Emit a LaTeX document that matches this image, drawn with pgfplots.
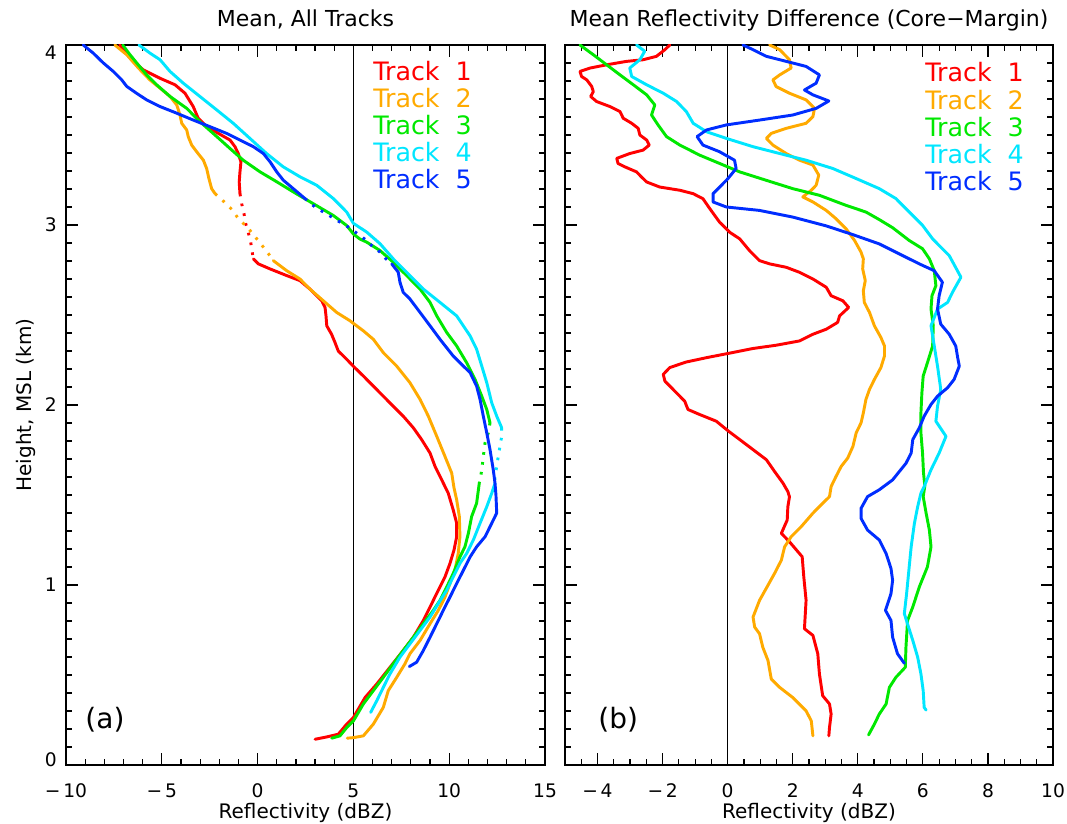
\documentclass[border=0pt]{standalone}
\usepackage{fontspec}
\setmainfont{DejaVu Sans}
\usepackage{pgfplots}
\pgfplotsset{compat=1.18}

\definecolor{trk1}{RGB}{255,0,0}
\definecolor{trk2}{RGB}{255,170,0}
\definecolor{trk3}{RGB}{0,232,0}
\definecolor{trk4}{RGB}{0,230,255}
\definecolor{trk5}{RGB}{0,45,255}

\newcommand\tickfont{\fontsize{14}{16}\selectfont}
\newcommand\labfont{\fontsize{15}{17}\selectfont}
\newcommand\titfont{\fontsize{16.5}{18}\selectfont}
\newcommand\legfont{\fontsize{19}{21}\selectfont}
\newcommand\panfont{\fontsize{21}{23}\selectfont}

\pgfplotsset{
  profile/.style={
    scale only axis,
    anchor=south west,
    height=540pt,
    ymin=0, ymax=4,
    ytick={0,1,2,3,4},
    minor y tick num=9,
    axis line style={line width=1.3pt},
    tick align=inside,
    tick style={black, line width=0.9pt},
    major tick length=9pt,
    minor tick length=4.5pt,
    tick label style={font=\tickfont, inner sep=0pt},
    /pgf/number format/assume math mode=true,
    xticklabel style={anchor=base, yshift=-24pt},
    yticklabel style={anchor=east, xshift=-6.75pt},
    title style={font=\titfont, at={(0.5,1)}, anchor=base, yshift=8pt},
    xlabel style={font=\labfont, at={(axis description cs:0.5,0)}, anchor=base, yshift=-39.75pt},
    ylabel style={font=\labfont, at={(axis description cs:-0.071,0.5)}, anchor=base},
    xlabel={Reflectivity (dBZ)},
  },
  solid trk/.style={line width=2.2pt, line join=round, line cap=round},
  dot trk/.style={line width=2.2pt, dash pattern=on 2pt off 5.5pt},
}

\begin{document}
\begin{tikzpicture}
\useasboundingbox (0,0) rectangle (800.25pt,618pt);

% ---------------- (a) mean profiles ----------------
\begin{axis}[profile,
  at={(49.5pt,44.25pt)}, width=359.25pt,
  xmin=-10, xmax=15,
  xtick={-10,-5,0,5,10,15},
  xticklabels={−\kern2pt10,−\kern2pt5,0,5,10,15},
  minor x tick num=4,
  yticklabels={\raisebox{4pt}[\height][\depth]{0},1,2,3,\raisebox{-6pt}[\height][\depth]{4}},
  title={Mean, All Tracks},
  ylabel={Height, MSL (km)},
]
\addplot[black, line width=0.8pt, forget plot] coordinates {(5,0) (5,4)};

% Track 1
\addplot[trk1, solid trk] coordinates {
(-7.20,4.000) (-6.57,3.918) (-5.97,3.862) (-5.09,3.815) (-4.31,3.779) (-3.79,3.732)
(-3.36,3.658) (-3.10,3.593) (-2.66,3.546) (-2.05,3.509) (-1.44,3.472) (-1.18,3.435)
(-1.01,3.397) (-0.87,3.351) (-0.92,3.295) (-0.96,3.239) (-0.92,3.174)};
\addplot[trk1, dot trk] coordinates {
(-0.92,3.174) (-0.83,3.118) (-0.71,3.063) (-0.62,3.007) (-0.49,2.960) (-0.36,2.904)
(-0.28,2.849) (-0.22,2.812)};
\addplot[trk1, solid trk] coordinates {
(-0.22,2.812) (0.04,2.784) (0.65,2.756) (1.52,2.719) (2.21,2.691) (2.73,2.644)
(3.35,2.579) (3.52,2.542) (3.57,2.495) (3.61,2.440) (3.86,2.393) (4.04,2.347)
(4.21,2.300) (4.65,2.254) (4.99,2.216) (5.52,2.161) (6.04,2.105) (6.56,2.049)
(7.08,1.993) (7.60,1.938) (8.13,1.873) (8.56,1.808) (9.00,1.733) (9.26,1.659)
(9.61,1.584) (9.95,1.510) (10.21,1.417) (10.39,1.343) (10.39,1.268) (10.25,1.194)
(10.04,1.120) (9.78,1.045) (9.43,0.971) (9.09,0.897) (8.65,0.803) (8.13,0.710)
(7.60,0.636) (6.91,0.543) (6.22,0.450) (5.61,0.375) (5.00,0.264) (4.65,0.227)
(4.21,0.171) (3.61,0.156) (3.00,0.143)};

% Track 2
\addplot[trk2, solid trk] coordinates {
(-7.45,4.000) (-6.83,3.946) (-6.22,3.872) (-5.62,3.806) (-5.09,3.760) (-4.57,3.714)
(-4.22,3.667) (-4.05,3.611) (-3.96,3.565) (-3.70,3.528) (-3.62,3.491) (-3.44,3.444)
(-3.18,3.407) (-2.83,3.360) (-2.66,3.314) (-2.54,3.258) (-2.40,3.202) (-2.22,3.174)};
\addplot[trk2, dot trk] coordinates {
(-2.22,3.174) (-1.74,3.128) (-1.35,3.087) (-1.06,3.044) (-0.40,2.970) (-0.05,2.924)
(0.30,2.877) (0.61,2.834) (0.82,2.802)};
\addplot[trk2, solid trk] coordinates {
(0.82,2.802) (1.52,2.746) (2.21,2.700) (2.73,2.644) (3.43,2.579) (4.13,2.514)
(4.82,2.468) (5.52,2.412) (6.04,2.365) (6.56,2.291) (7.26,2.216) (7.95,2.124)
(8.48,2.031) (8.91,1.938) (9.35,1.826) (9.78,1.714) (10.13,1.622) (10.25,1.540)
(10.39,1.473) (10.53,1.380) (10.56,1.268) (10.47,1.175) (10.30,1.082) (10.04,1.008)
(9.78,0.933) (9.43,0.859) (9.00,0.785) (8.48,0.692) (7.95,0.618) (7.69,0.562)
(7.26,0.487) (6.82,0.413) (6.56,0.320) (6.04,0.227) (5.52,0.162) (5.00,0.152)
(4.68,0.149)};

% Track 3
\addplot[trk3, solid trk] coordinates {
(-7.04,4.000) (-6.66,3.946) (-6.23,3.890) (-5.79,3.834) (-5.27,3.779) (-4.57,3.714)
(-3.70,3.648) (-3.01,3.574) (-2.13,3.491) (-1.44,3.425) (-0.75,3.360) (0.13,3.295)
(1.00,3.240) (1.86,3.184) (2.91,3.118) (3.95,3.053) (4.65,2.997) (5.00,2.950)
(5.34,2.922) (5.69,2.905) (6.39,2.858) (7.08,2.793) (7.78,2.719) (8.48,2.644)
(9.00,2.570) (9.35,2.495) (9.87,2.403) (10.39,2.328) (10.91,2.235) (11.35,2.142)
(11.70,2.049) (11.96,1.975) (12.13,1.901)};
\addplot[trk3, dot trk] coordinates {
(12.13,1.901) (12.04,1.845) (11.87,1.789) (11.78,1.714) (11.70,1.640) (11.61,1.584)
(11.57,1.566)};
\addplot[trk3, solid trk] coordinates {
(11.57,1.566) (11.43,1.454) (11.17,1.380) (11.00,1.287) (10.82,1.212) (10.56,1.156)
(10.21,1.064) (9.87,0.989) (9.52,0.915) (9.17,0.859) (8.65,0.785) (8.13,0.710)
(7.60,0.636) (7.08,0.562) (6.56,0.487) (6.04,0.413) (5.52,0.339) (5.00,0.245)
(4.65,0.208) (4.30,0.162) (3.87,0.149)};

% Track 4
\addplot[trk4, solid trk] coordinates {
(-6.19,4.000) (-5.62,3.955) (-5.09,3.918) (-4.57,3.853) (-3.88,3.788) (-3.01,3.714)
(-2.13,3.639) (-1.27,3.565) (-0.40,3.481) (0.47,3.397) (1.34,3.323) (2.21,3.268)
(3.08,3.221) (3.95,3.147) (4.65,3.072) (5.00,3.009) (5.69,2.961) (6.39,2.896)
(7.08,2.812) (7.78,2.737) (8.65,2.644) (9.52,2.570) (10.39,2.495) (11.09,2.384)
(11.43,2.310) (11.70,2.216) (11.96,2.124) (12.22,2.012) (12.48,1.938) (12.74,1.873)};
\addplot[trk4, dot trk] coordinates {
(12.74,1.873) (12.74,1.826) (12.65,1.770) (12.56,1.714) (12.48,1.659) (12.39,1.603)
(12.39,1.566)};
\addplot[trk4, solid trk] coordinates {
(12.39,1.566) (12.22,1.510) (11.96,1.435) (11.61,1.343) (11.26,1.250) (10.91,1.175)
(10.56,1.120) (10.21,1.045) (9.87,0.971) (9.43,0.897) (9.00,0.822) (8.48,0.748)
(7.95,0.673) (7.43,0.599) (6.91,0.506) (6.56,0.431) (6.22,0.357) (5.90,0.292)};

% Track 5
\addplot[trk5, solid trk] coordinates {
(-9.10,4.000) (-8.58,3.955) (-8.05,3.900) (-7.53,3.853) (-7.09,3.806) (-6.83,3.770)
(-6.32,3.732) (-5.79,3.695) (-5.09,3.658) (-4.22,3.621) (-3.36,3.583) (-2.48,3.546)
(-1.62,3.509) (-0.92,3.472) (-0.22,3.435) (0.30,3.397) (0.65,3.351) (1.00,3.295)
(1.34,3.249) (1.86,3.202) (2.47,3.147)};
\addplot[trk5, dot trk] coordinates {
(2.47,3.147) (3.00,3.100) (3.43,3.072) (3.87,3.044) (4.30,3.016) (4.74,2.988)
(5.17,2.955) (5.61,2.920) (5.95,2.886) (6.39,2.849) (6.70,2.812) (7.00,2.784)};
\addplot[trk5, solid trk] coordinates {
(7.00,2.784) (7.34,2.738) (7.43,2.682) (7.60,2.626) (7.95,2.589) (8.48,2.514)
(9.00,2.440) (9.52,2.365) (10.21,2.272) (10.74,2.216) (11.09,2.180) (11.43,2.105)
(11.61,2.031) (11.78,1.938) (11.96,1.845) (12.13,1.752) (12.30,1.640) (12.39,1.566)
(12.44,1.500) (12.48,1.400) (12.22,1.343) (11.87,1.268) (11.43,1.212) (11.09,1.156)
(10.74,1.082) (10.39,1.008) (10.04,0.933) (9.69,0.859) (9.35,0.785) (9.00,0.710)
(8.65,0.636) (8.30,0.571) (7.92,0.547)};

\node[anchor=base west, inner sep=0pt, font=\legfont, text=trk1] at (rel axis cs:0.641,0.951) {Track\hspace{12pt}1};
\node[anchor=base west, inner sep=0pt, font=\legfont, text=trk2] at (rel axis cs:0.641,0.913) {Track\hspace{12pt}2};
\node[anchor=base west, inner sep=0pt, font=\legfont, text=trk3] at (rel axis cs:0.641,0.875) {Track\hspace{12pt}3};
\node[anchor=base west, inner sep=0pt, font=\legfont, text=trk4] at (rel axis cs:0.641,0.838) {Track\hspace{12pt}4};
\node[anchor=base west, inner sep=0pt, font=\legfont, text=trk5] at (rel axis cs:0.641,0.800) {Track\hspace{12pt}5};
\node[anchor=base west, inner sep=0pt, font=\panfont] at (rel axis cs:0.040,0.051) {(a)};
\end{axis}

% ---------------- (b) core minus margin ----------------
\begin{axis}[profile,
  at={(423.75pt,44.25pt)}, width=366pt,
  xmin=-5, xmax=10,
  xtick={-4,-2,0,2,4,6,8,10},
  xticklabels={−\kern2pt4,−\kern2pt2,0,2,4,6,8,10},
  minor xtick={-4.5,-3.5,-3,-2.5,-1.5,-1,-0.5,0.5,1,1.5,2.5,3,3.5,4.5,5,5.5,6.5,7,7.5,8.5,9,9.5},
  yticklabels={},
  title={Mean Reflectivity Difference (Core−Margin)},
]
\addplot[black, line width=0.8pt, forget plot] coordinates {(0,0) (0,4)};

% Track 1
\addplot[trk1, solid trk] coordinates {
(-1.78,4.000) (-1.93,3.974) (-2.19,3.937) (-2.60,3.918) (-3.11,3.909) (-3.72,3.890)
(-4.23,3.872) (-4.54,3.853) (-4.49,3.825) (-4.33,3.806) (-4.18,3.770) (-4.13,3.741)
(-4.21,3.714) (-4.03,3.686) (-3.62,3.658) (-3.31,3.630) (-3.21,3.593) (-2.95,3.565)
(-2.75,3.537) (-2.70,3.500) (-2.49,3.472) (-2.41,3.444) (-2.60,3.416) (-3.01,3.397)
(-3.41,3.370) (-3.37,3.342) (-3.16,3.323) (-2.80,3.295) (-2.65,3.267) (-2.49,3.239)
(-2.09,3.211) (-1.47,3.193) (-1.06,3.174) (-0.76,3.146) (-0.55,3.091) (-0.25,3.016)
(0.06,2.960) (0.37,2.923) (0.67,2.858) (0.98,2.802) (1.29,2.784) (1.80,2.765)
(2.21,2.737) (2.62,2.700) (3.03,2.654) (3.18,2.607) (3.54,2.579) (3.72,2.542)
(3.44,2.495) (3.38,2.459) (3.03,2.421) (2.62,2.393) (2.21,2.356) (1.49,2.332)
(0.78,2.314) (0.03,2.287) (-0.65,2.263) (-1.27,2.239) (-1.78,2.208) (-1.98,2.170)
(-1.93,2.133) (-1.68,2.087) (-1.32,2.021) (-1.22,1.975) (-0.86,1.947) (-0.35,1.910)
(0.03,1.854) (0.37,1.808) (0.78,1.752) (1.19,1.696) (1.44,1.631) (1.70,1.566)
(1.85,1.519) (1.90,1.490) (1.85,1.435) (1.83,1.361) (1.65,1.287) (1.90,1.240)
(2.29,1.157) (2.34,1.045) (2.41,0.915) (2.36,0.757) (2.62,0.720) (2.77,0.618)
(2.82,0.506) (2.92,0.385) (3.13,0.339) (3.18,0.283) (3.13,0.208) (3.11,0.162)};

% Track 2
\addplot[trk2, solid trk] coordinates {
(1.29,4.000) (1.60,3.974) (1.90,3.918) (1.95,3.872) (1.60,3.834) (1.39,3.806)
(1.49,3.769) (1.90,3.732) (2.41,3.695) (2.67,3.648) (2.62,3.602) (2.41,3.565)
(1.80,3.537) (1.34,3.509) (1.19,3.481) (1.39,3.444) (1.80,3.397) (2.21,3.360)
(2.62,3.333) (2.80,3.277) (2.72,3.221) (2.57,3.193) (2.31,3.156) (2.62,3.128)
(3.03,3.081) (3.33,3.035) (3.64,2.979) (3.90,2.914) (4.10,2.849) (4.17,2.812)
(4.15,2.756) (4.23,2.691) (4.17,2.635) (4.20,2.570) (4.36,2.514) (4.51,2.440)
(4.71,2.375) (4.82,2.328) (4.82,2.272) (4.71,2.208) (4.51,2.142) (4.36,2.087)
(4.25,2.031) (4.17,1.956) (4.10,1.901) (3.95,1.845) (3.85,1.770) (3.69,1.705)
(3.49,1.659) (3.33,1.603) (3.18,1.547) (3.13,1.491) (2.87,1.445) (2.62,1.399)
(2.26,1.324) (1.95,1.268) (1.75,1.212) (1.65,1.138) (1.44,1.064) (1.24,0.999)
(0.98,0.915) (0.78,0.822) (0.83,0.766) (0.98,0.729) (1.08,0.654) (1.24,0.580)
(1.34,0.478) (1.60,0.431) (2.00,0.375) (2.41,0.301) (2.57,0.245) (2.62,0.162)};

% Track 3
\addplot[trk3, solid trk] coordinates {
(-4.54,4.000) (-4.13,3.946) (-3.72,3.890) (-3.31,3.834) (-2.90,3.779) (-2.49,3.723)
(-2.24,3.667) (-2.34,3.611) (-2.14,3.556) (-1.88,3.491) (-1.47,3.444) (-0.86,3.388)
(-0.25,3.342) (0.37,3.295) (1.19,3.248) (2.00,3.202) (2.82,3.165) (3.64,3.109)
(4.25,3.072) (4.66,3.030) (5.07,2.985) (5.58,2.914) (5.99,2.868) (6.20,2.812)
(6.35,2.746) (6.40,2.663) (6.28,2.607) (6.25,2.533) (6.32,2.440) (6.30,2.328)
(6.14,2.235) (6.01,2.161) (5.97,2.068) (5.94,1.956) (5.94,1.845) (5.99,1.733)
(6.02,1.622) (6.06,1.550) (6.01,1.491) (6.10,1.399) (6.20,1.305) (6.25,1.212)
(6.14,1.101) (5.89,0.989) (5.69,0.878) (5.53,0.803) (5.48,0.654) (5.46,0.543)
(5.17,0.487) (4.97,0.431) (4.87,0.339) (4.66,0.283) (4.51,0.227) (4.33,0.167)};

% Track 4
\addplot[trk4, solid trk] coordinates {
(-2.80,4.000) (-2.55,3.965) (-2.70,3.918) (-3.01,3.872) (-2.95,3.825) (-2.49,3.779)
(-1.98,3.732) (-1.57,3.686) (-1.27,3.630) (-1.06,3.565) (-0.65,3.518) (-0.04,3.481)
(0.78,3.435) (1.60,3.397) (2.41,3.360) (3.23,3.314) (3.95,3.258) (4.66,3.202)
(5.17,3.147) (5.58,3.072) (5.99,2.998) (6.30,2.923) (6.50,2.886) (6.81,2.830)
(7.17,2.710) (6.91,2.626) (6.76,2.570) (6.45,2.533) (6.25,2.440) (6.35,2.328)
(6.45,2.216) (6.55,2.087) (6.45,1.993) (6.40,1.910) (6.71,1.826) (6.50,1.733)
(6.25,1.640) (6.04,1.547) (5.94,1.510) (5.84,1.435) (5.74,1.343) (5.64,1.212)
(5.56,1.064) (5.50,0.952) (5.43,0.841) (5.56,0.766) (5.69,0.692) (5.84,0.599)
(5.94,0.506) (6.01,0.413) (6.04,0.320) (6.10,0.305)};

% Track 5
\addplot[trk5, solid trk] coordinates {
(0.47,4.000) (0.78,3.974) (1.19,3.937) (1.80,3.909) (2.41,3.881) (2.82,3.834)
(2.72,3.788) (2.36,3.750) (2.62,3.723) (3.11,3.689) (2.72,3.648) (2.00,3.611)
(0.98,3.583) (-0.04,3.556) (-0.65,3.528) (-0.94,3.491) (-0.76,3.444) (-0.25,3.407)
(0.21,3.360) (0.26,3.314) (0.01,3.258) (-0.19,3.221) (-0.45,3.174) (-0.45,3.128)
(-0.04,3.100) (0.98,3.081) (2.00,3.044) (3.03,2.995) (3.84,2.947) (4.66,2.895)
(5.38,2.830) (5.89,2.784) (6.35,2.746) (6.60,2.682) (6.50,2.607) (6.45,2.533)
(6.55,2.449) (6.81,2.393) (7.01,2.328) (7.07,2.263) (7.12,2.216) (6.96,2.142)
(6.76,2.096) (6.45,2.049) (6.25,2.003) (6.04,1.938) (5.89,1.873) (5.69,1.808)
(5.64,1.733) (5.48,1.676) (5.07,1.584) (4.66,1.529) (4.30,1.491) (4.10,1.426)
(4.10,1.370) (4.30,1.305) (4.66,1.250) (4.87,1.175) (5.02,1.092) (5.07,1.026)
(5.02,0.952) (4.85,0.859) (5.02,0.803) (5.07,0.710) (5.22,0.618) (5.43,0.565)};

\node[anchor=base west, inner sep=0pt, font=\legfont, text=trk1] at (rel axis cs:0.738,0.949) {Track\hspace{12pt}1};
\node[anchor=base west, inner sep=0pt, font=\legfont, text=trk2] at (rel axis cs:0.738,0.911) {Track\hspace{12pt}2};
\node[anchor=base west, inner sep=0pt, font=\legfont, text=trk3] at (rel axis cs:0.738,0.873) {Track\hspace{12pt}3};
\node[anchor=base west, inner sep=0pt, font=\legfont, text=trk4] at (rel axis cs:0.738,0.836) {Track\hspace{12pt}4};
\node[anchor=base west, inner sep=0pt, font=\legfont, text=trk5] at (rel axis cs:0.738,0.798) {Track\hspace{12pt}5};
\node[anchor=base west, inner sep=0pt, font=\panfont] at (rel axis cs:0.068,0.051) {(b)};
\end{axis}
\end{tikzpicture}
\end{document}
